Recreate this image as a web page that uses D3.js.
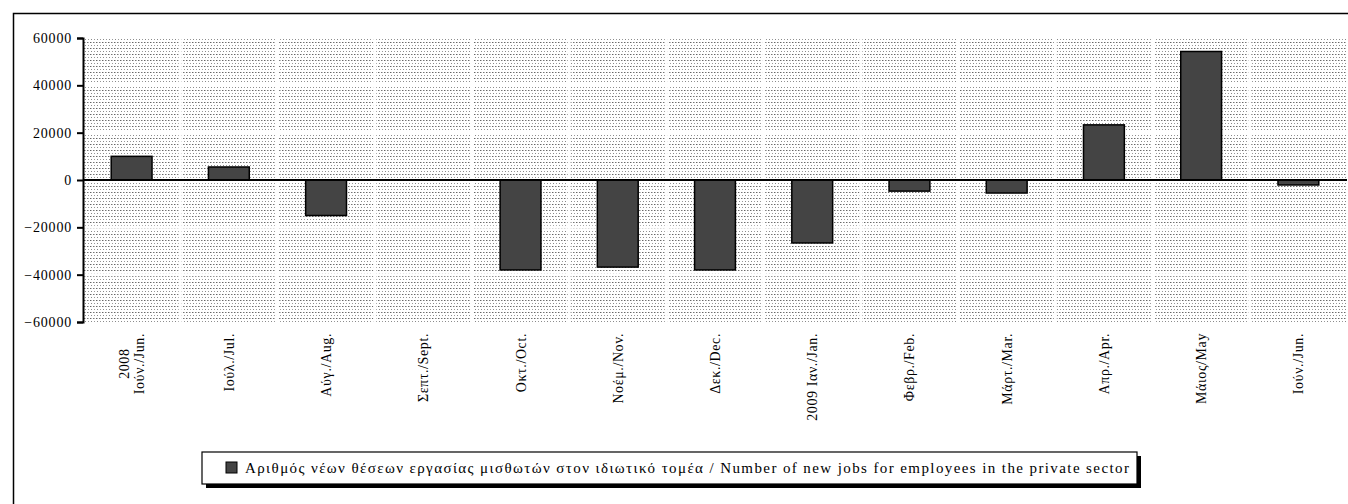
<!DOCTYPE html>
<html><head><meta charset="utf-8">
<script src="https://cdn.jsdelivr.net/npm/d3@7"></script>
<style>
body{margin:0;background:#fff;}
</style></head>
<body><svg id="c" width="1348" height="504"></svg>
<script>
const categories = [["2008","Ιούν./Jun."],["Ιούλ./Jul."],["Αύγ./Aug."],["Σεπτ./Sept."],["Οκτ./Oct."],["Νοέμ./Nov."],["Δεκ./Dec."],["2009 Ιαν./Jan."],["Φεβρ./Feb."],["Μάρτ./Mar."],["Απρ./Apr."],["Μάιος/May"],["Ιούν./Jun."]];
const values = [10000, 5500, -15000, 0, -38000, -36800, -38000, -26600, -4700, -5500, 23300, 54300, -2100];
const yTicks = [-60000,-40000,-20000,0,20000,40000,60000];
const seriesName = "Αριθμός νέων θέσεων εργασίας μισθωτών στον ιδιωτικό τομέα / Number of new jobs for employees in the private sector";

const FONT = "Liberation Serif";
const svg = d3.select("#c");
const X0=83, X1=1347, Y0=38, Y1=322;
const x = d3.scaleBand().domain(d3.range(categories.length)).range([X0,X1]).paddingInner(0).paddingOuter(0);
const y = d3.scaleLinear().domain([-60000,60000]).range([Y1,Y0]);

// outer border
svg.append("rect").attr("x",13.5).attr("y",13.5).attr("width",1360).attr("height",520)
  .attr("fill","none").attr("stroke","#000").attr("stroke-width",1.5);

const defs = svg.append("defs");
const pat = defs.append("pattern").attr("id","dots").attr("patternUnits","userSpaceOnUse")
  .attr("width",6).attr("height",6);
pat.append("rect").attr("width",6).attr("height",6).attr("fill","#fff");
[[0,0,"#666"],[3,0,"#777"],[1,3,"#888"],[4,3,"#999"],[1,0,"#bbb"],[4,0,"#bbb"]].forEach(([px,py,c])=>
  pat.append("rect").attr("x",px).attr("y",py).attr("width",1).attr("height",1).attr("fill",c));

svg.append("rect").attr("x",X0).attr("y",Y0).attr("width",X1-X0).attr("height",Y1-Y0).attr("fill","url(#dots)");

// white grid lines
const g = svg.append("g");
g.selectAll("line.h").data(yTicks.slice(1,-1)).join("line")
  .attr("x1",X0).attr("x2",X1).attr("y1",d=>y(d)).attr("y2",d=>y(d))
  .attr("stroke","#fff").attr("stroke-width",3);
g.selectAll("line.v").data(d3.range(1,categories.length)).join("line")
  .attr("x1",d=>x(d)).attr("x2",d=>x(d)).attr("y1",Y0).attr("y2",Y1)
  .attr("stroke","#fff").attr("stroke-width",3);

// bars
const bw = x.bandwidth()*0.42;
svg.append("g").selectAll("rect").data(values.map((v,i)=>({v,i})).filter(d=>d.v!==0)).join("rect")
  .attr("x",d=>x(d.i)+x.bandwidth()/2-bw/2)
  .attr("y",d=>y(Math.max(0,d.v)))
  .attr("width",bw)
  .attr("height",d=>Math.abs(y(d.v)-y(0)))
  .attr("fill","#444").attr("stroke","#000").attr("stroke-width",1.5);

// zero line
svg.append("line").attr("x1",X0).attr("x2",X1).attr("y1",y(0)).attr("y2",y(0))
  .attr("stroke","#000").attr("stroke-width",2);

// y axis
const ya = svg.append("g").attr("transform",`translate(${X0},0)`)
  .call(d3.axisLeft(y).tickValues(yTicks).tickSize(6).tickPadding(5).tickFormat(d3.format("d")));
ya.select(".domain").attr("stroke","#000").attr("stroke-width",2);
ya.selectAll(".tick line").attr("stroke","#000").attr("stroke-width",2);
ya.selectAll("text").attr("font-size",14).attr("fill","#000").style("font-family",FONT).style("letter-spacing","0.8px");

// x labels
const xl = svg.append("g");
categories.forEach((lines,i)=>{
  const cx = x(i)+x.bandwidth()/2;
  const n = lines.length;
  const lh = 15;
  const t = xl.append("g").attr("transform",`translate(${cx},333) rotate(-90)`);
  const texts = lines.map((s,k)=>t.append("text").text(s)
    .style("font-family",FONT)
    .attr("font-size",14).style("letter-spacing","0.6px").attr("fill","#000")
    .attr("y",(k-(n-1)/2)*lh+5));
  const lens = texts.map(tx=>tx.node().getComputedTextLength());
  const mx = Math.max(...lens);
  texts.forEach((tx,k)=>tx.attr("text-anchor","middle").attr("x",-mx/2));
});

// legend
const L = {x:202, y:452, w:935, h:32};
svg.append("rect").attr("x",L.x+4).attr("y",L.y+4).attr("width",L.w).attr("height",L.h).attr("fill","#000");
svg.append("rect").attr("x",L.x).attr("y",L.y).attr("width",L.w).attr("height",L.h).attr("fill","#fff").attr("stroke","#000").attr("stroke-width",1.2);
svg.append("rect").attr("x",226).attr("y",462).attr("width",11).attr("height",11).attr("fill","#444").attr("stroke","#000").attr("stroke-width",1);
svg.append("text").attr("x",245).attr("y",473).style("font-family",FONT).attr("font-size",15).style("letter-spacing","1.4px").attr("fill","#000").text(seriesName);
</script></body></html>
